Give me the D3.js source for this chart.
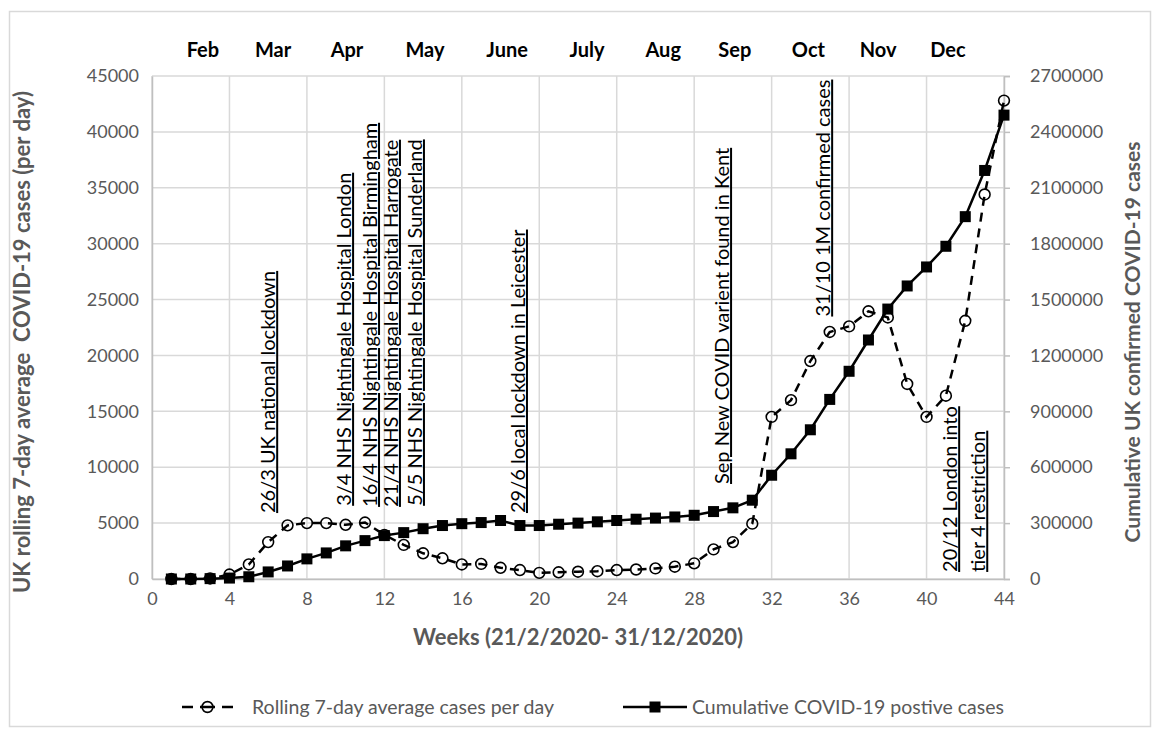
<!DOCTYPE html>
<html>
<head>
<meta charset="utf-8">
<script src="https://cdn.jsdelivr.net/npm/d3@7"></script>
<style>
  html, body { margin: 0; padding: 0; background: #fff; }
  svg { display: block; }
  text { font-family: Lato, "Open Sans", sans-serif; }
</style>
</head>
<body>
<script>
// Weekly UK COVID-19 figures, 21/2/2020 - 31/12/2020
const weeks = [1,2,3,4,5,6,7,8,9,10,11,12,13,14,15,16,17,18,19,20,21,22,
               23,24,25,26,27,28,29,30,31,32,33,34,35,36,37,38,39,40,41,42,43,44];

// Rolling 7-day average cases per day (left axis)
const rollingAvg = [0,0,50,400,1300,3300,4800,5000,5000,4850,5050,3950,3050,2300,1850,1300,
                    1350,1000,800,550,600,650,700,800,850,950,1100,1400,2650,3300,4950,14500,
                    16000,19500,22100,22600,23950,23400,17450,14500,16400,23100,34400,42800];

// Cumulative confirmed positive cases (right axis)
const cumulative = [0,0,2000,5000,12000,38000,70000,108000,140000,178000,206000,233000,249000,
                    270000,287000,297000,303000,314000,287000,287000,294000,300000,307000,314000,
                    321000,327000,333000,342000,362000,382000,423000,557000,672000,801000,964000,
                    1115000,1283000,1449000,1573000,1675000,1786000,1945000,2193000,2490000];

// Axis ticks
const weekTicks = [0,4,8,12,16,20,24,28,32,36,40,44];
const leftTicks = [0,5000,10000,15000,20000,25000,30000,35000,40000,45000];
const rightTicks = [0,300000,600000,900000,1200000,1500000,1800000,2100000,2400000,2700000];

// Month headings and the week at which each is centred
const months = ["Feb","Mar","Apr","May","June","July","Aug","Sep","Oct","Nov","Dec"];
const monthWeeks = [2.63,6.25,10.07,14.1,18.34,22.47,26.4,30.1,33.9,37.5,41.1];

// Event notes: text, week, and the left-axis level the text starts from
const noteTexts = ["26/3 UK national lockdown",
                   "3/4 NHS Nightingale Hospital London",
                   "16/4 NHS Nightingale Hospital Birmingham",
                   "21/4 NHS Nightingale Hospital Harrogate",
                   "5/5 NHS Nightingale Hospital Sunderland",
                   "29/6 local lockdown in Leicester",
                   "Sep New COVID varient found in Kent",
                   "31/10 1M confirmed cases",
                   "20/12 London into",
                   "tier 4 restriction"];
const noteWeeks = [6.0, 9.92, 11.26, 12.34, 13.58, 18.9, 29.44, 34.66, 41.22, 42.67];
const noteLevels = [5900, 6550, 6450, 6450, 6550, 5900, 8500, 23480, 630, 630];

const seriesNames = ["Rolling 7-day average cases per day", "Cumulative COVID-19 postive cases"];

const W = 1162, H = 735;
const svg = d3.select("body").append("svg").attr("width", W).attr("height", H);

svg.append("rect").attr("x", 9.5).attr("y", 11.5).attr("width", 1141).attr("height", 715)
  .attr("fill", "#fff").attr("stroke", "#d9d9d9").attr("stroke-width", 1.5);

const x = d3.scaleLinear().domain([0, 44]).range([152, 1004]);
const yL = d3.scaleLinear().domain([0, 45000]).range([579, 76]);
const yR = d3.scaleLinear().domain([0, 2700000]).range([579, 76]);

const gridColor = "#d9d9d9", axisColor = "#bfbfbf", labelColor = "#595959";

// Gridlines
const grid = svg.append("g");
grid.selectAll("line.h").data(leftTicks).join("line")
  .attr("x1", x(0)).attr("x2", x(44)).attr("y1", d => yL(d)).attr("y2", d => yL(d))
  .attr("stroke", gridColor).attr("stroke-width", 1.5);
grid.selectAll("line.v").data(weekTicks).join("line")
  .attr("x1", d => x(d)).attr("x2", d => x(d)).attr("y1", yL(0)).attr("y2", yL(45000))
  .attr("stroke", gridColor).attr("stroke-width", 1.5);

// Axes
const styleAxis = g => {
  g.selectAll(".domain").attr("stroke", axisColor).attr("stroke-width", 1.5);
  g.selectAll(".tick line").attr("stroke", axisColor).attr("stroke-width", 1.5);
  g.selectAll(".tick text").attr("fill", labelColor).attr("font-size", 18)
    .attr("font-family", "Lato, sans-serif");
};
svg.append("g").attr("transform", `translate(${x(0)},0)`)
  .call(d3.axisLeft(yL).tickValues(leftTicks).tickSize(0).tickPadding(13).tickFormat(d3.format("d")))
  .call(styleAxis);
svg.append("g").attr("transform", `translate(${x(44)},0)`)
  .call(d3.axisRight(yR).tickValues(rightTicks).tickSize(6).tickPadding(20).tickFormat(d3.format("d")))
  .call(styleAxis);
svg.append("g").attr("transform", `translate(0,${yL(0)})`)
  .call(d3.axisBottom(x).tickValues(weekTicks).tickSize(0).tickPadding(13).tickFormat(d3.format("d")))
  .call(styleAxis);

// Axis titles
const titleSize = 22;
svg.append("text").attr("x", 578).attr("y", 645).attr("text-anchor", "middle")
  .attr("font-size", titleSize).attr("font-weight", "bold").attr("fill", labelColor)
  .text("Weeks (21/2/2020- 31/12/2020)");
svg.append("text").attr("transform", "translate(30,342) rotate(-90)").attr("text-anchor", "middle")
  .attr("font-size", titleSize).attr("font-weight", "bold").attr("fill", labelColor)
  .style("white-space", "pre")
  .text("UK rolling 7-day average  COVID-19 cases (per day)");
svg.append("text").attr("transform", "translate(1140,342) rotate(-90)").attr("text-anchor", "middle")
  .attr("font-size", 21).attr("font-weight", "bold").attr("fill", labelColor)
  .text("Cumulative UK confirmed COVID-19 cases");

// Month headings
svg.append("g").selectAll("text").data(months).join("text")
  .attr("x", (d, i) => x(monthWeeks[i])).attr("y", 57).attr("text-anchor", "middle")
  .attr("font-size", 20).attr("font-weight", "bold").attr("fill", "#000")
  .text(d => d);

// Event notes, rotated and underlined
const noteSize = 20;
svg.append("g").selectAll("text").data(noteTexts).join("text")
  .attr("transform", (d, i) => `translate(${x(noteWeeks[i]) + noteSize * 0.35},${yL(noteLevels[i])}) rotate(-90)`)
  .attr("font-size", noteSize).attr("fill", "#000")
  .style("text-decoration", "underline")
  .text(d => d);

// Rolling average: dashed line with open circle markers
const rows = weeks.map((w, i) => ({ w, avg: rollingAvg[i], cum: cumulative[i] }));
svg.append("path").datum(rows)
  .attr("d", d3.line().x(d => x(d.w)).y(d => yL(d.avg)))
  .attr("fill", "none").attr("stroke", "#000").attr("stroke-width", 2.5)
  .attr("stroke-dasharray", "9,7");
svg.append("g").selectAll("circle").data(rows).join("circle")
  .attr("cx", d => x(d.w)).attr("cy", d => yL(d.avg)).attr("r", 5.4)
  .attr("fill", "none").attr("stroke", "#000").attr("stroke-width", 1.6);

// Cumulative: solid line with filled square markers
svg.append("path").datum(rows)
  .attr("d", d3.line().x(d => x(d.w)).y(d => yR(d.cum)))
  .attr("fill", "none").attr("stroke", "#000").attr("stroke-width", 2.5);
svg.append("g").selectAll("rect").data(rows).join("rect")
  .attr("x", d => x(d.w) - 5.5).attr("y", d => yR(d.cum) - 5.5)
  .attr("width", 11).attr("height", 11).attr("fill", "#000");

// Legend
const ly = 707;
const leg = svg.append("g");
leg.append("line").attr("x1", 182).attr("x2", 233).attr("y1", ly).attr("y2", ly)
  .attr("stroke", "#000").attr("stroke-width", 2.5).attr("stroke-dasharray", "11,7,15,7,11");
leg.append("circle").attr("cx", 207.5).attr("cy", ly).attr("r", 5.4)
  .attr("fill", "none").attr("stroke", "#000").attr("stroke-width", 1.6);
leg.append("text").attr("x", 252).attr("y", ly).attr("dy", "0.35em")
  .attr("font-size", 19.5).attr("fill", labelColor).text(seriesNames[0]);
leg.append("line").attr("x1", 623).attr("x2", 687).attr("y1", ly).attr("y2", ly)
  .attr("stroke", "#000").attr("stroke-width", 2.5);
leg.append("rect").attr("x", 655 - 5.5).attr("y", ly - 5.5).attr("width", 11).attr("height", 11)
  .attr("fill", "#000");
leg.append("text").attr("x", 692).attr("y", ly).attr("dy", "0.35em")
  .attr("font-size", 19.5).attr("fill", labelColor).text(seriesNames[1]);
</script>
</body>
</html>
